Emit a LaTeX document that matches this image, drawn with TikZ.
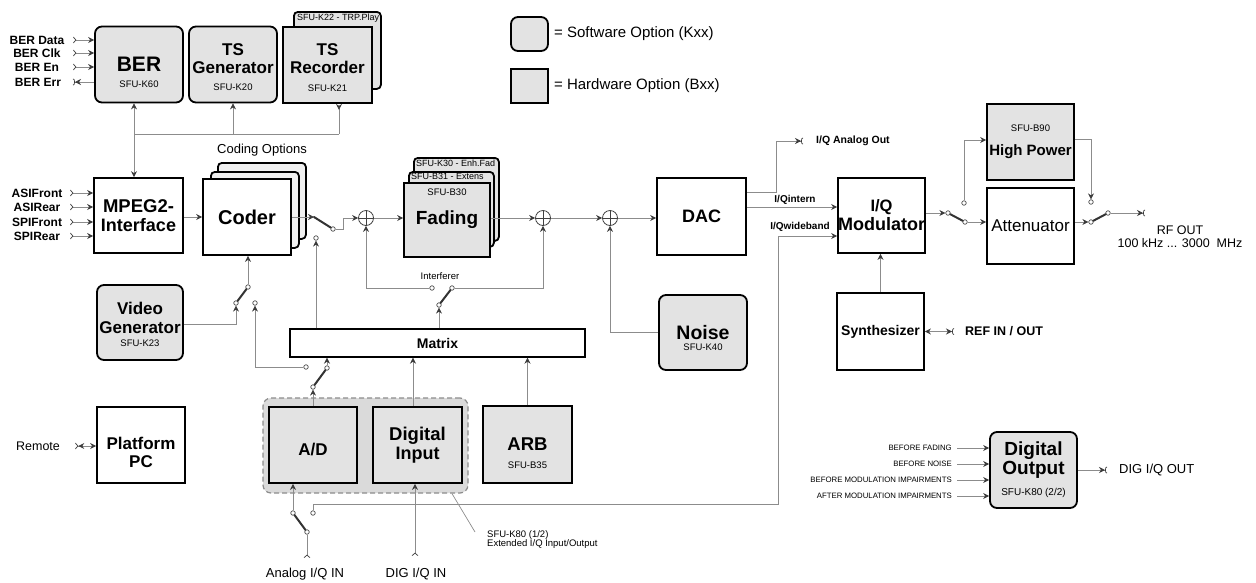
\documentclass[tikz,border=0pt]{standalone}
\usepackage{fontspec}
\setmainfont{Liberation Sans}
\usetikzlibrary{arrows.meta,positioning,calc}

\definecolor{optgray}{HTML}{E3E3E3}
\definecolor{grpgray}{HTML}{DADADA}
\definecolor{wiregray}{HTML}{8C8C8C}
\definecolor{tipgray}{HTML}{3C3C3C}
\newcommand{\fsz}[2]{\fontsize{#1}{#2}\selectfont}

\tikzset{
  box/.style={draw=black, line width=1.8pt, inner sep=0pt, minimum width=88pt,
    minimum height=76pt, align=center, font=\fsz{18}{19}\bfseries},
  hwbox/.style={box, fill=optgray},
  swbox/.style={box, fill=optgray, rounded corners=7pt},
  card/.style={draw=black, line width=1.8pt, fill=optgray, rounded corners=4pt,
    inner sep=0pt, anchor=north west},
  cardtxt/.style={font=\fsz{9}{9}, inner sep=0pt, anchor=north west},
  grp/.style={draw=black!45, dash pattern=on 5pt off 3pt, line width=1.2pt,
    fill=grpgray, rounded corners=8pt, inner sep=0pt},
  ttl/.style={font=\fsz{17}{18}\bfseries, align=center, inner sep=0pt},
  sub/.style={font=\fsz{9.5}{10}, inner sep=0pt},
  lbl/.style={font=\fsz{12.5}{13}, inner sep=0pt},
  iolbl/.style={font=\fsz{12}{13}\bfseries, inner sep=0pt},
  legtxt/.style={font=\fsz{15}{16}, inner sep=0pt},
  tinylbl/.style={font=\fsz{7.8}{8}, inner sep=0pt},
  wire/.style={draw=wiregray, line width=0.7pt},
  arr/.style={wire, -{Stealth[length=6pt, width=6pt, inset=2pt, color=tipgray]}},
  inarr/.style={wire, {Straight Barb[reversed, length=2.5pt, width=6pt, color=tipgray, sep=2pt]}-{Stealth[length=6pt, width=6pt, inset=2pt, color=tipgray]}},
  inwire/.style={wire, {Straight Barb[reversed, length=2.5pt, width=6pt, color=tipgray]}-},
  outarr/.style={wire, -{Stealth[length=6pt, width=6pt, inset=2pt, color=tipgray] Arc Barb[reversed, length=2pt, width=7pt, color=tipgray, sep=1pt]}},
  biarr/.style={wire, {Stealth[length=6pt, width=6pt, inset=2pt, color=tipgray]}-{Stealth[length=6pt, width=6pt, inset=2pt, color=tipgray] Arc Barb[reversed, length=2pt, width=7pt, color=tipgray, sep=1pt]}},
  biin/.style={wire, {Straight Barb[reversed, length=2.5pt, width=6pt, color=tipgray, sep=2pt] Stealth[length=6pt, width=6pt, inset=2pt, color=tipgray]}-{Stealth[length=6pt, width=6pt, inset=2pt, color=tipgray]}},
  dbl/.style={wire, {Stealth[length=6pt, width=6pt, inset=2pt, color=tipgray]}-{Stealth[length=6pt, width=6pt, inset=2pt, color=tipgray]}},
  tail/.style={wire, {Stealth[reversed, length=6pt, width=6pt, inset=2pt, color=tipgray]}-},
  lever/.style={draw=black!80, line width=2pt, line cap=round},
  cont/.style={circle, draw=black!70, fill=white, line width=0.7pt,
    inner sep=0pt, minimum size=4.5pt},
  adder/.style={circle, draw=black!75, line width=0.8pt, minimum size=15pt,
    inner sep=0pt, path picture={
      \draw[black!75, line width=0.7pt]
        (path picture bounding box.north) -- (path picture bounding box.south)
        (path picture bounding box.west) -- (path picture bounding box.east);}}
}

\begin{document}
\begin{tikzpicture}[x=1pt, y=-1pt]
\useasboundingbox (0,0) rectangle (1256,582);

% legend
\node[swbox, minimum width=37pt, minimum height=34pt] (legsw) at (529.5,34) {};
\node[hwbox, minimum width=37pt, minimum height=34pt] (leghw) at (529.5,86) {};
\node[legtxt, right=5pt of legsw] (legswtxt) {= Software Option (Kxx)};
\node[legtxt, right=5pt of leghw] (leghwtxt) {= Hardware Option (Bxx)};

% BER, TS generator, TS recorder
\node[swbox] (ber) at (139,64.5) {\fsz{21}{22}BER};
\node[sub] (berid) at ($(ber)+(0,19.5)$) {SFU-K60};
\node[swbox] (tsg) at (233,64.5) {};
\node[ttl] (tsgtxt) at ($(tsg)+(0,-5.5)$) {TS\\Generator};
\node[sub] (tsgid) at ($(tsg)+(0,22.5)$) {SFU-K20};
\node[card, minimum width=87pt, minimum height=77pt] (trp) at (293,11) {};
\node[cardtxt] (trptxt) at ($(trp.north west)+(4,3)$) {SFU-K22 - TRP.Play};
\node[hwbox, minimum width=89pt] (tsr) at (327.5,65) {};
\node[ttl] (tsrtxt) at ($(tsr)+(0,-6)$) {TS\\Recorder};
\node[sub] (tsrid) at ($(tsr)+(0,23)$) {SFU-K21};

\foreach \y/\txt/\nm in {40/BER Data/berdat, 53/BER Clk/berclk, 67/BER En/beren}{
  \node[iolbl] (\nm) at (37,\y) {\txt};
  \coordinate (\nm0) at (71,\y);
  \draw[inarr] (\nm0) -- (\nm0 -| ber.west);
}
\node[iolbl] (bererr) at (38,82) {BER Err};
\coordinate (bererr0) at (72,82);
\draw[outarr] (bererr0 -| ber.west) -- (bererr0);

% MPEG2 interface and coder
\node[box, minimum width=89pt, minimum height=75pt] (mpeg) at (138.5,215.5) {\fsz{18.5}{18}MPEG2-\\Interface};
\foreach \y/\txt in {193/ASIFront, 207/ASIRear, 222/SPIFront, 236/SPIRear}{
  \node[iolbl] (\txt) at (37,\y) {\txt};
  \coordinate (\txt0) at (68,\y);
  \draw[inarr] (\txt0) -- (\txt0 -| mpeg.west);
}

% bus to BER / TS
\coordinate (busl) at (134,134);
\coordinate (busr) at (339,134);
\draw[wire] (busl) -- (busr);
\draw[dbl] (ber.south -| busl) -- (mpeg.north -| busl);
\draw[arr] (tsg.south |- busl) -- (tsg.south);
\draw[tail] (tsr.south -| busr) -- (busr);

\node[card, fill=optgray!55, minimum width=88pt, minimum height=76pt] (coderbk2) at (217,162) {};
\node[card, fill=optgray!55, minimum width=88pt, minimum height=76pt] (coderbk1) at (210,171) {};
\node[box, fill=white] (coder) at (247,217) {\fsz{20}{20}Coder};
\node[lbl, font=\fsz{13}{13}] (codopt) at (262,150) {Coding Options};
\draw[arr] (mpeg.east |- coder) -- (coder.west);

% coder switch and first adder
\coordinate (s1in) at (314,217);
\node[cont] (s1out) at (333,229) {};
\node[cont] (s1mx) at (316,238) {};
\draw[arr] (coder.east |- s1in) -- (s1in);
\draw[lever] (s1in) -- (s1out);
\node[adder] (add1) at (366,218) {};
\draw[arr] (s1out) -- ++(10,0) |- (add1);

% fading
\node[card, minimum width=85pt, minimum height=83pt] (fadk30) at (413,157) {};
\node[cardtxt] (fadk30txt) at ($(fadk30.north west)+(3,2.5)$) {SFU-K30 - Enh.Fad};
\node[card, minimum width=85pt, minimum height=75pt] (fadb31) at (408,171) {};
\node[cardtxt] (fadb31txt) at ($(fadb31.north west)+(3,2.5)$) {SFU-B31 - Extens};
\node[hwbox, minimum width=86pt, minimum height=74pt] (fading) at (447,220) {\fsz{19}{19}Fading};
\node[sub] (fadid) at ($(fading)+(0,-28)$) {SFU-B30};
\draw[arr] (add1) -- (add1 -| fading.west);

\node[adder] (add2) at (543,218) {};
\node[adder] (add3) at (610,218) {};
\draw[arr] (fading.east |- add2) -- (add2);
\draw[arr] (add2) -- (add3);

% noise
\node[swbox, minimum height=75pt] (noise) at (703,332.5) {\fsz{19.5}{20}Noise};
\node[sub] (noiseid) at ($(noise)+(0,14.5)$) {SFU-K40};
\draw[arr] (noise.west) -| (add3);

% matrix
\node[box, line width=1.4pt, minimum width=295pt, minimum height=28pt, font=\fsz{14}{14}\bfseries] (mtx) at (437.5,343) {Matrix};
\draw[arr] (mtx.north -| s1mx) -- (s1mx);

% interferer switch
\node[cont] (i1) at (432,288) {};
\node[cont] (i2) at (452,288) {};
\node[cont] (ip) at (439,305) {};
\draw[lever] (ip) -- (i2);
\draw[arr] (mtx.north -| ip) -- (ip);
\draw[arr] (i1) -| (add1);
\draw[arr] (i2) -| (add2);
\node[lbl, font=\fsz{9.5}{10}] (interf) at (440,276) {Interferer};

% DAC and I/Q modulator
\node[box, minimum width=89pt, minimum height=77pt] (dac) at (701.5,216.5) {DAC};
\draw[arr] (add3) -- (add3 -| dac.west);
\node[box, minimum width=87pt, minimum height=75pt] (iqm) at (881.5,215.5) {\fsz{16.5}{17}I/Q\\Modulator};
\coordinate (aout) at (804,141);
\draw[outarr] ([yshift=24.5pt]dac.east) -- ++(29,0) |- (aout);
\node[inner sep=0pt, font=\fsz{10.5}{11}\bfseries, right=12pt of aout] (aouttxt) {I/Q Analog Out};
\draw[arr] ([yshift=9.5pt]dac.east) -- ([yshift=8.5pt]iqm.west);
\node[inner sep=0pt, font=\fsz{10}{10}\bfseries] (interntxt) at (795,200) {I/Qintern};
\node[inner sep=0pt, font=\fsz{10}{10}\bfseries] (widetxt) at (800,227) {I/Qwideband};

% high power / attenuator
\node[hwbox, minimum width=87pt, minimum height=76pt] (hipow) at (1030.5,142) {};
\node[ttl, font=\fsz{15}{15}\bfseries] (hipowtxt) at ($(hipow)+(0,10)$) {High Power};
\node[sub] (hipowid) at ($(hipow)+(0,-14)$) {SFU-B90};
\node[box, minimum width=87pt, minimum height=76pt, font=\fsz{17}{17}] (atten) at (1030.5,226) {Attenuator};

\node[cont] (qp) at (948,213) {};
\node[cont] (q1) at (965,222) {};
\node[cont] (q2) at (964,203) {};
\draw[arr] ([yshift=2.5pt]iqm.east) -- (qp);
\draw[lever] (qp) -- (q1);
\draw[arr] (q1) -- (q1 -| atten.west);
\draw[arr] (q2) |- ([yshift=2pt]hipow.west);

\node[cont] (r1) at (1091,222) {};
\node[cont] (r2) at (1091,202) {};
\node[cont] (rp) at (1108,213) {};
\draw[arr] ([yshift=4pt]atten.east) -- (r1);
\draw[arr] ([yshift=3pt]hipow.east) -| (r2);
\draw[lever] (rp) -- (r1);
\coordinate (rfo) at (1146,213);
\draw[outarr] (rp) -- (rfo);
\node[lbl, align=center] (rftxt) at (1180,236.5) {RF OUT\\100 kHz ... 3000~~MHz};

% synthesizer
\node[box, minimum width=87pt, minimum height=77pt, font=\fsz{14}{14}\bfseries] (synth) at (880.5,331.5) {Synthesizer};
\draw[arr] (synth.north) -- (synth.north |- iqm.south);
\coordinate (refo) at (955,331.5);
\draw[biarr] (synth.east) -- (refo);
\node[lbl, font=\fsz{12.5}{13}\bfseries, right=10pt of refo] (reftxt) {REF IN / OUT};

% digital output
\node[swbox, minimum width=87pt] (digout) at (1033.5,470) {};
\node[ttl, font=\fsz{19}{19}\bfseries] (digouttxt) at ($(digout)+(0,-9.5)$) {Digital\\Output};
\node[sub, font=\fsz{10}{10}] (digoutid) at ($(digout)+(0,23)$) {SFU-K80 (2/2)};
\foreach \y/\txt [count=\idx] in {448/BEFORE FADING, 464/BEFORE NOISE, 480/BEFORE MODULATION IMPAIRMENTS, 496/AFTER MODULATION IMPAIRMENTS}{
  \node[tinylbl, anchor=east] (dsrc\idx) at (952,\y) {\txt};
  \draw[arr] ([xshift=5pt]dsrc\idx.east) -- (dsrc\idx -| digout.west);
}
\coordinate (dout) at (1108,470);
\draw[outarr] (digout.east) -- (dout);
\node[lbl, font=\fsz{13}{13}, right=11pt of dout] (douttxt) {DIG I/Q OUT};

% platform
\node[box] (pc) at (141,445) {};
\node[ttl] (pctxt) at ($(pc)+(0,7.5)$) {Platform\\PC};
\node[lbl] (remote) at (38,446) {Remote};
\coordinate (remo) at (73,446);
\draw[biin] (remo) -- (remo -| pc.west);

% video generator
\node[swbox, minimum width=86pt, minimum height=75pt] (vidgen) at (140,322.5) {};
\node[ttl, font=\fsz{17}{19}\bfseries] (vidgentxt) at ($(vidgen)+(0,-5)$) {Video\\Generator};
\node[sub] (vidgenid) at ($(vidgen)+(0,20.5)$) {SFU-K23};
\node[cont] (vp) at (248,287) {};
\node[cont] (v1) at (236,303) {};
\node[cont] (v2) at (255,303) {};
\draw[arr] (vp) -- (vp |- coder.south);
\draw[lever] (vp) -- (v1);
\draw[arr] ([yshift=-1.5pt]vidgen.east) -| (v1);

% extended I/Q group
\node[grp, minimum width=205pt, minimum height=95pt] (k80) at (365.5,445.5) {};
\node[hwbox] (ad) at (313,445) {};
\node[ttl] (adtxt) at ($(ad)+(0,5)$) {A/D};
\node[hwbox, minimum width=89pt] (digin) at (417.5,445) {\fsz{18.5}{20}Digital\\Input};
\node[hwbox, minimum width=89pt, minimum height=77pt] (arb) at (527.5,444.5) {\fsz{18.5}{19}ARB};
\node[sub] (arbid) at ($(arb)+(0,20.5)$) {SFU-B35};
\draw[arr] ([xshift=-4.5pt]digin.north) -- ([xshift=-4.5pt]digin.north |- mtx.south);
\draw[arr] (arb.north) -- (arb.north |- mtx.south);

% A/D to matrix / video switch
\node[cont] (mp) at (313,387) {};
\node[cont] (m1) at (306,367) {};
\node[cont] (m2) at (327,368) {};
\draw[arr] (ad.north) -- (mp);
\draw[lever] (mp) -- (m2);
\draw[arr] (m2) -- (m2 |- mtx.south);
\draw[arr] (m1) -| (v2);

% analog I/Q input switch
\node[cont] (ap) at (307,532) {};
\node[cont] (a1) at (293,513) {};
\node[cont] (a2) at (313,513) {};
\draw[lever] (ap) -- (a1);
\draw[arr] (a1) -- (a1 |- ad.south);
\coordinate (wbc) at (778,504);
\draw[arr] (a2) |- (wbc) |- ([yshift=-20.5pt]iqm.west);
\node[lbl, font=\fsz{13}{13}] (aintxt) at (305,574) {Analog I/Q IN};
\coordinate (ain0) at (307,558);
\draw[inwire] (ain0) -- (ap);
\node[lbl, font=\fsz{13}{13}] (dintxt) at (416,574) {DIG I/Q IN};
\coordinate (din0) at (415,558);
\draw[inarr] (din0) -- (din0 |- digin.south);

\coordinate (k80tip) at (475,532);
\draw[wire] ([xshift=86.5pt]k80.south) -- (k80tip);
\node[anchor=north west, inner sep=0pt, align=left, font=\fsz{9.5}{9.5}] (k80txt) at (487,530) {SFU-K80 (1/2)\\Extended I/Q Input/Output};

\end{tikzpicture}
\end{document}
